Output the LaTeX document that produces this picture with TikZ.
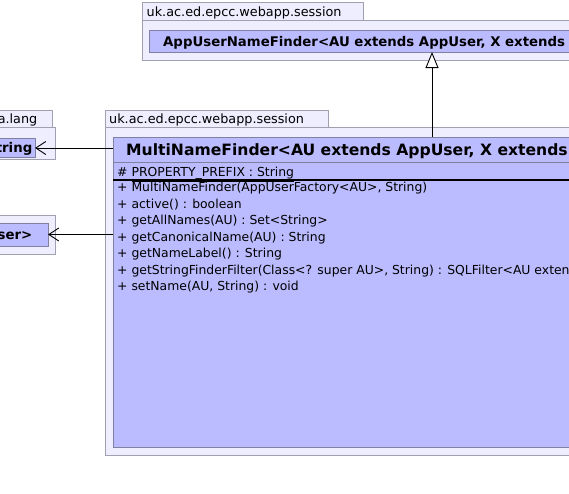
\documentclass[tikz,border=0pt]{standalone}
\usepackage{fontspec}
\setmainfont{DejaVu Sans}
\usetikzlibrary{arrows.meta}
\definecolor{pkgfill}{RGB}{238,238,255}
\definecolor{pkgline}{RGB}{160,160,176}
\definecolor{clsfill}{RGB}{187,187,255}
\definecolor{clsline}{RGB}{128,128,160}
\tikzset{
  pkg/.style={draw=pkgline, fill=pkgfill, line width=1pt, anchor=north west, inner sep=0pt, outer sep=0pt},
  cls/.style={draw=clsline, fill=clsfill, line width=1pt, anchor=north west, inner sep=0pt, outer sep=0pt},
  tablbl/.style={anchor=base west, inner sep=0pt, font=\fontsize{12.8}{12.8}\selectfont},
  clsname/.style={anchor=base west, inner sep=0pt, font=\bfseries\fontsize{13.3}{13.3}\selectfont},
  member/.style={anchor=base west, inner sep=0pt, font=\fontsize{12.4}{12.4}\selectfont},
  dep/.style={-{Straight Barb[length=10pt,width=13pt]}, line width=0.9pt},
  gen/.style={-{Triangle[open,length=16pt,width=13pt,fill=white]}, line width=0.9pt},
}
\begin{document}
\begin{tikzpicture}[x=1pt,y=-1pt]
\useasboundingbox (0,0) rectangle (569,493);
\fill[white] (0,0) rectangle (569,493);
\clip (0,0) rectangle (569,493);
% top package
\node[pkg, minimum width=221, minimum height=19] (toptab) at (142,2) {};
\node[pkg, minimum width=600, minimum height=40] (toppkg) at (142,20.5) {};
\node[tablbl] (toplbl) at (146.5,16) {uk.ac.ed.epcc.webapp.session};
\node[cls, minimum width=566, minimum height=22] (super) at (149,30) {};
\node[clsname] (supername) at (163,46) {AppUserNameFinder<AU extends AppUser, X extends D};
% java.lang package
\node[pkg, minimum width=102, minimum height=18] (langtab) at (-50,110) {};
\node[pkg, minimum width=105, minimum height=32] (langpkg) at (-50,127.5) {};
\node[tablbl, anchor=base east] (langlbl) at (37.5,123.5) {java.lang};
\node[cls, minimum width=85, minimum height=19] (str) at (-50,138.5) {};
\node[clsname, anchor=base east] (strname) at (32.5,152.5) {String};
% lower left package
\node[pkg, minimum width=155, minimum height=39] (fpkg) at (-100,215) {};
\node[cls, minimum width=148, minimum height=23] (fact) at (-100,223) {};
\node[clsname, anchor=base east] (factname) at (32.5,239.5) {AppUserFactory<AU extends AppUser>};
% main package
\node[pkg, minimum width=223, minimum height=18] (maintab) at (105,110) {};
\node[pkg, minimum width=700, minimum height=328] (mainpkg) at (105,127.5) {};
\node[tablbl] (mainlbl) at (109,123.5) {uk.ac.ed.epcc.webapp.session};
\node[cls, minimum width=638, minimum height=310] (main) at (113,137) {};
\node[clsname, font=\bfseries\fontsize{15.6}{15.6}\selectfont] (mainname) at (126,155) {MultiNameFinder<AU extends AppUser, X extends};
\draw[clsline, line width=1pt] (main.west |- 0,162) -- (main.east |- 0,162);
\node[member] (attr) at (117,176.5) {\#\ \underline{PROPERTY\_PREFIX : String}};
\draw[black, line width=1.5pt] (main.west |- 0,180) -- (main.east |- 0,180);
\node[member] (m1) at (117,191.5) {+ MultiNameFinder(AppUserFactory<AU>, String)};
\node[member] (m2) at (117,208) {+ active() : boolean};
\node[member] (m3) at (117,224.5) {+ getAllNames(AU) : Set<String>};
\node[member] (m4) at (117,241) {+ getCanonicalName(AU) : String};
\node[member] (m5) at (117,257.5) {+ getNameLabel() : String};
\node[member] (m6) at (117,274) {+ getStringFinderFilter(Class<? super AU>, String) : SQLFilter<AU extends AppUser>};
\node[member] (m7) at (117,290.5) {+ setName(AU, String) : void};
% connectors
\draw[gen] (main.north) -- (super.south);
\draw[dep] (main.west |- str.east) -- (str.east);
\draw[dep] (main.west |- fact.east) -- (fact.east);
\end{tikzpicture}
\end{document}
